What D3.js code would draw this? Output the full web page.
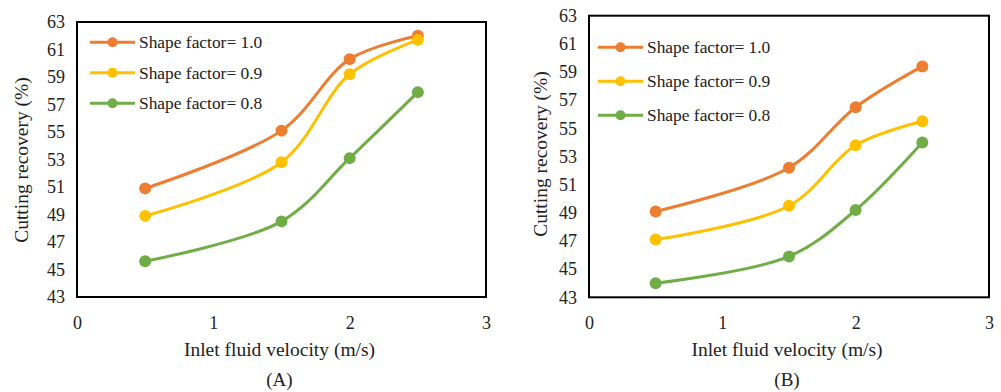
<!DOCTYPE html>
<html>
<head>
<meta charset="utf-8">
<script src="https://cdn.jsdelivr.net/npm/d3@7"></script>
<style>
  html, body { margin: 0; padding: 0; background: #fff; }
  svg { display: block; }
  text { font-family: "Liberation Serif", "Times New Roman", serif; fill: #222; }
</style>
</head>
<body>
<svg id="chart" width="1001" height="392"></svg>
<script>
// ---- data ----
const velocity = [0.5, 1.5, 2, 2.5];
const seriesNames = ["Shape factor= 1.0", "Shape factor= 0.9", "Shape factor= 0.8"];
const seriesColors = ["#ED7D31", "#FFC000", "#70AD47"];
const panelA_sf10 = [50.9, 55.1, 60.3, 62.0];
const panelA_sf09 = [48.9, 52.8, 59.2, 61.7];
const panelA_sf08 = [45.6, 48.5, 53.1, 57.9];
const panelB_sf10 = [49.1, 52.2, 56.5, 59.4];
const panelB_sf09 = [47.1, 49.5, 53.8, 55.5];
const panelB_sf08 = [44.0, 45.9, 49.2, 54.0];
const xTicks = [0, 1, 2, 3];
const yTicks = [43, 45, 47, 49, 51, 53, 55, 57, 59, 61, 63];
const xTitle = "Inlet fluid velocity (m/s)";
const yTitle = "Cutting recovery (%)";
const panelLabels = ["(A)", "(B)"];

const svg = d3.select("#chart");
const FONT = "'Liberation Serif', 'Times New Roman', serif";

const panels = [
  { series: [panelA_sf10, panelA_sf09, panelA_sf08], label: panelLabels[0],
    left: 77, right: 486, top: 22, bottom: 297, yTitleX: 28, yTitleY: 160,
    legX: 90, legY: 42.3, legStep: 30.5 },
  { series: [panelB_sf10, panelB_sf09, panelB_sf08], label: panelLabels[1],
    left: 589, right: 989, top: 15.7, bottom: 297.3, yTitleX: 547, yTitleY: 154,
    legX: 598, legY: 47.3, legStep: 34 }
];

panels.forEach(p => {
  const x = d3.scaleLinear().domain([0, 3]).range([p.left, p.right]);
  const y = d3.scaleLinear().domain([43, 63]).range([p.bottom, p.top]);
  const g = svg.append("g");

  // frame
  g.append("rect")
    .attr("x", p.left).attr("y", p.top)
    .attr("width", p.right - p.left).attr("height", p.bottom - p.top)
    .attr("fill", "none").attr("stroke", "#000").attr("stroke-width", 2);

  // y axis ticks (labels only)
  const yAxis = d3.axisLeft(y).tickValues(yTicks).tickFormat(d3.format("d")).tickSize(0).tickPadding(12);
  const ya = g.append("g").attr("transform", `translate(${p.left},0)`).call(yAxis);
  ya.attr("font-family", FONT);
  ya.select(".domain").remove();
  ya.selectAll("text").style("font-family", FONT).style("font-size", "18px").attr("fill", "#222");

  // x axis ticks
  const xAxis = d3.axisBottom(x).tickValues(xTicks).tickFormat(d3.format("d")).tickSize(0).tickPadding(19);
  const xa = g.append("g").attr("transform", `translate(0,${p.bottom})`).call(xAxis);
  xa.attr("font-family", FONT);
  xa.select(".domain").remove();
  xa.selectAll("text").style("font-family", FONT).style("font-size", "18px").attr("fill", "#222");

  // titles
  const cx = (p.left + p.right) / 2 - 2;
  g.append("text").attr("x", cx).attr("y", 356).attr("text-anchor", "middle")
    .style("font-size", "19.5px").text(xTitle);
  g.append("text").attr("x", cx).attr("y", 386).attr("text-anchor", "middle")
    .style("font-size", "19px").text(p.label);
  g.append("text").attr("transform", `translate(${p.yTitleX},${p.yTitleY}) rotate(-90)`)
    .attr("text-anchor", "middle").style("font-size", "19.5px").text(yTitle);

  // series lines
  const line = d3.line().x(d => x(d[0])).y(d => y(d[1])).curve(d3.curveCatmullRom.alpha(0.5));
  p.series.forEach((vals, i) => {
    const pts = velocity.map((v, j) => [v, vals[j]]);
    g.append("path").datum(pts).attr("d", line)
      .attr("fill", "none").attr("stroke", seriesColors[i]).attr("stroke-width", 3);
    g.selectAll(null).data(pts).enter().append("circle")
      .attr("cx", d => x(d[0])).attr("cy", d => y(d[1])).attr("r", 6)
      .attr("fill", seriesColors[i]);
  });

  // legend
  seriesNames.forEach((name, i) => {
    const ly = p.legY + i * p.legStep;
    g.append("line").attr("x1", p.legX).attr("x2", p.legX + 45)
      .attr("y1", ly).attr("y2", ly)
      .attr("stroke", seriesColors[i]).attr("stroke-width", 3);
    g.append("circle").attr("cx", p.legX + 22.5).attr("cy", ly).attr("r", 5)
      .attr("fill", seriesColors[i]);
    g.append("text").attr("x", p.legX + 49).attr("y", ly + 6)
      .style("font-size", "17.4px").text(name);
  });
});
</script>
</body>
</html>
